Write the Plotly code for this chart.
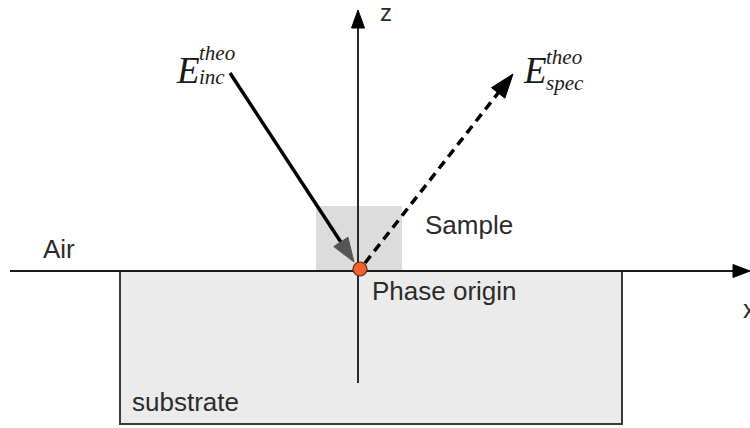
import math
import plotly.graph_objects as go

# ---- diagram geometry (pixel space of a 750x428 canvas, y grows downward) ----
origin = [360, 269]
x_axis_span = [10, 750]          # x from / to, at origin y (tip at 750)
x_axis_y = 271
z_axis_span = [383, 10]          # z from bottom to top tip
z_axis_x = 358
substrate_box = [120, 271, 622, 424]
sample_box = [316, 206, 402, 271]
inc_start = [230, 73]
inc_tip = [354, 262]
spec_start = [365, 263]
spec_tip = [513, 74]

label_texts = ["Air", "Sample", "Phase origin", "substrate", "z", "x"]
label_x = [41, 423, 370, 130, 378, 741]
label_y = [249, 225, 291, 402, 12, 309]
label_size = [26, 26, 26, 26, 24, 26]

INK = "#1a1a1a"

fig = go.Figure()

def head(tip, frm, length, width):
    dx, dy = tip[0] - frm[0], tip[1] - frm[1]
    L = math.hypot(dx, dy)
    ux, uy = dx / L, dy / L
    bx, by = tip[0] - ux * length, tip[1] - uy * length
    px, py = -uy, ux
    xs = [tip[0], bx + px * width / 2, bx - px * width / 2, tip[0]]
    ys = [tip[1], by + py * width / 2, by - py * width / 2, tip[1]]
    return xs, ys, (bx, by)

def add_poly(xs, ys, color):
    fig.add_trace(go.Scatter(x=xs, y=ys, mode="lines", fill="toself",
                             fillcolor=color, line=dict(color=color, width=1),
                             hoverinfo="skip", showlegend=False))

def add_line(xs, ys, color, width, dash="solid"):
    fig.add_trace(go.Scatter(x=xs, y=ys, mode="lines",
                             line=dict(color=color, width=width, dash=dash),
                             hoverinfo="skip", showlegend=False))

# substrate and sample regions
fig.add_shape(type="rect", x0=substrate_box[0], y0=substrate_box[1],
              x1=substrate_box[2], y1=substrate_box[3],
              fillcolor="#ebebeb", line=dict(color="#3a3a3a", width=2), layer="below")
fig.add_shape(type="rect", x0=sample_box[0], y0=sample_box[1],
              x1=sample_box[2], y1=sample_box[3],
              fillcolor="#dcdcdc", line=dict(width=0), layer="below")

# x axis
hx, hy, b = head([x_axis_span[1], x_axis_y], [x_axis_span[0], x_axis_y], 17, 13)
add_line([x_axis_span[0], b[0]], [x_axis_y, x_axis_y], INK, 2)
add_poly(hx, hy, "#000000")

# z axis
hx, hy, b = head([z_axis_x, z_axis_span[1]], [z_axis_x, z_axis_span[0]], 18, 13)
add_line([z_axis_x, z_axis_x], [z_axis_span[0], b[1]], "#2a2a2a", 2)
add_poly(hx, hy, "#000000")

# incident beam
hx, hy, b = head(inc_tip, inc_start, 24, 17)
add_line([inc_start[0], b[0]], [inc_start[1], b[1]], "#000000", 3.5)
add_poly(hx, hy, "#555555")

# specular beam
hx, hy, b = head(spec_tip, spec_start, 24, 17)
add_line([spec_start[0], b[0]], [spec_start[1], b[1]], "#000000", 3.5, dash="9px,6px")
add_poly(hx, hy, "#000000")

# phase origin marker
fig.add_trace(go.Scatter(x=[origin[0]], y=[origin[1]], mode="markers",
                         marker=dict(size=14, color="#f2602e",
                                     line=dict(color="#5a2a10", width=1.2)),
                         hoverinfo="skip", showlegend=False))

# plain labels
for t, x, y, s in zip(label_texts, label_x, label_y, label_size):
    fig.add_annotation(x=x, y=y, text=t, showarrow=False, xanchor="left",
                       yanchor="middle",
                       font=dict(family="Liberation Sans, Arial", size=s, color="#2b2b2b"))

# E labels (serif italic, stacked super/subscripts)
serif = "Liberation Serif, Times New Roman"
def e_label(ex, ey, sx, sup_y, sub_y, sup, sub):
    fig.add_annotation(x=ex, y=ey, text="<i>E</i>", showarrow=False,
                       xanchor="left", yanchor="middle",
                       font=dict(family=serif, size=37, color="#1a1a1a"))
    fig.add_annotation(x=sx, y=sup_y, text="<i>" + sup + "</i>",
                       showarrow=False, xanchor="left", yanchor="middle",
                       font=dict(family=serif, size=21, color="#1a1a1a"))
    fig.add_annotation(x=sx, y=sub_y, text="<i>" + sub + "</i>",
                       showarrow=False, xanchor="left", yanchor="middle",
                       font=dict(family=serif, size=21, color="#1a1a1a"))

e_label(174, 70, 197, 53, 77, "theo", "inc")
e_label(521, 70, 544, 57, 83, "theo", "spec")

fig.update_layout(
    width=750, height=428,
    margin=dict(l=0, r=0, t=0, b=0),
    paper_bgcolor="white", plot_bgcolor="white",
    xaxis=dict(range=[0, 750], visible=False, fixedrange=True),
    yaxis=dict(range=[428, 0], visible=False, fixedrange=True),
    showlegend=False,
)

fig.write_html("out.html", config={"displayModeBar": False, "staticPlot": True},
               post_script="document.body.style.margin='0';document.body.style.overflow='hidden';")
